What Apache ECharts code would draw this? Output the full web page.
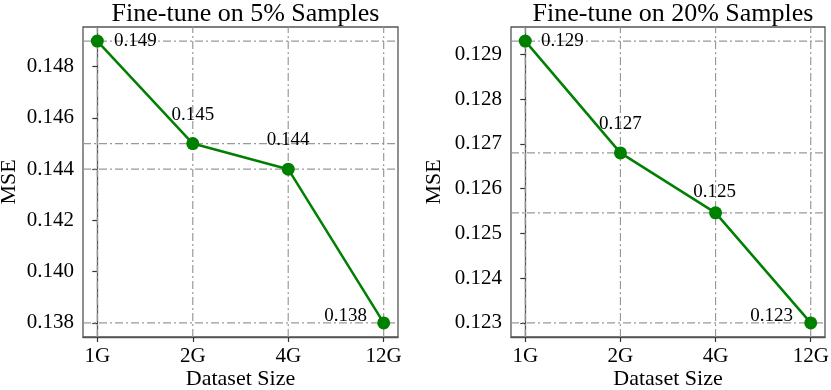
<!DOCTYPE html>
<html>
<head>
<meta charset="utf-8">
<script src="https://cdn.jsdelivr.net/npm/echarts@6/dist/echarts.min.js"></script>
<style>
html,body{margin:0;padding:0;background:#fff;}
#c{width:831px;height:390px;}
</style>
</head>
<body>
<div id="c"></div>
<script>
// ---- data ----
const categories = ['1G', '2G', '4G', '12G'];
const mse5 = [0.149, 0.145, 0.144, 0.138];
const mse20 = [0.1293, 0.1268, 0.12546, 0.123];
const ticks5 = [0.138, 0.140, 0.142, 0.144, 0.146, 0.148];
const ticks20 = [0.123, 0.124, 0.125, 0.126, 0.127, 0.128, 0.129];
const titles = ['Fine-tune on 5% Samples', 'Fine-tune on 20% Samples'];

// ---- label placement (style) ----
const labelOffsets5 = [[38, 0], [0, -29], [0, -29], [-38, -7]];
const labelOffsets20 = [[37, 0], [0, -29], [-1, -21], [-39, -7]];

const FONT = 'Liberation Serif';
const GREEN = '#008000';
const grids = [
  {left: 83, right: 433, top: 27, bottom: 53},
  {left: 511, right: 6, top: 27, bottom: 53}
];
const X_MIN = -0.15, X_MAX = 3.15;

function yRange(vals) {
  const mn = Math.min(...vals), mx = Math.max(...vals);
  const m = (mx - mn) * 0.05;
  return [mn - m, mx + m];
}

const chart = echarts.init(document.getElementById('c'), null, {renderer: 'canvas'});

const sets = [
  {vals: mse5, ticks: ticks5, offs: labelOffsets5, nameGap: 63},
  {vals: mse20, ticks: ticks20, offs: labelOffsets20, nameGap: 66}
];

const option = {
  animation: false,
  backgroundColor: '#fff',
  title: titles.map((t, i) => ({
    text: t,
    left: grids[i].left + (831 - grids[i].left - grids[i].right) / 2,
    top: -4,
    textAlign: 'center',
    textStyle: {fontFamily: FONT, fontSize: 26, fontWeight: 'normal', color: '#000'}
  })),
  grid: grids.map(g => Object.assign({
    show: true, borderColor: '#555', borderWidth: 1.3, backgroundColor: 'transparent',
    containLabel: false, outerBoundsMode: 'none'
  }, g)),
  xAxis: sets.map((s, i) => ({
    type: 'value',
    gridIndex: i,
    min: X_MIN,
    max: X_MAX,
    name: 'Dataset Size',
    nameLocation: 'middle',
    nameGap: 31,
    nameMoveOverlap: false,
    nameTextStyle: {fontFamily: FONT, fontSize: 22, color: '#000', verticalAlign: 'top'},
    axisLine: {show: true, lineStyle: {color: '#555', width: 1.3}},
    axisTick: {show: true, length: 5, customValues: [0, 1, 2, 3], lineStyle: {color: '#333', width: 1.2}},
    axisLabel: {
      show: true, customValues: [0, 1, 2, 3], margin: 9,
      formatter: v => categories[Math.round(v)],
      fontFamily: FONT, fontSize: 21, color: '#000'
    },
    splitLine: {show: false}
  })),
  yAxis: sets.map((s, i) => {
    const r = yRange(s.vals);
    return {
      type: 'value',
      gridIndex: i,
      min: r[0],
      max: r[1],
      name: 'MSE',
      nameLocation: 'middle',
      nameGap: s.nameGap,
      nameTextStyle: {fontFamily: FONT, fontSize: 22, color: '#000'},
      axisLine: {show: true, lineStyle: {color: '#555', width: 1.3}},
      axisTick: {show: true, length: 5, customValues: s.ticks, lineStyle: {color: '#333', width: 1.2}},
      axisLabel: {
        show: true, customValues: s.ticks, margin: 9,
        formatter: v => v.toFixed(3),
        fontFamily: FONT, fontSize: 21, color: '#000'
      },
      splitLine: {show: false}
    };
  }),
  series: []
};

const refLine = {color: '#999', width: 1.2, type: [8, 3, 2, 3]};

sets.forEach((s, i) => {
  const r = yRange(s.vals);
  // dash-dot reference lines through each point (horizontal and vertical)
  s.vals.forEach(v => {
    option.series.push({
      type: 'line', xAxisIndex: i, yAxisIndex: i, z: 1, silent: true,
      symbol: 'none', lineStyle: refLine,
      data: [[X_MIN, v], [X_MAX, v]]
    });
  });
  categories.forEach((c, k) => {
    option.series.push({
      type: 'line', xAxisIndex: i, yAxisIndex: i, z: 1, silent: true,
      symbol: 'none', lineStyle: refLine,
      data: [[k, r[0]], [k, r[1]]]
    });
  });
  option.series.push({
    type: 'line',
    xAxisIndex: i, yAxisIndex: i,
    z: 5,
    symbol: 'circle',
    symbolSize: 13,
    lineStyle: {color: GREEN, width: 2.5},
    itemStyle: {color: GREEN},
    data: s.vals.map((v, k) => ({
      value: [k, v],
      label: {
        show: true,
        position: 'inside',
        offset: s.offs[k],
        formatter: () => v.toFixed(3),
        fontFamily: FONT, fontSize: 19, color: '#000'
      }
    }))
  });
});

chart.setOption(option);
</script>
</body>
</html>
